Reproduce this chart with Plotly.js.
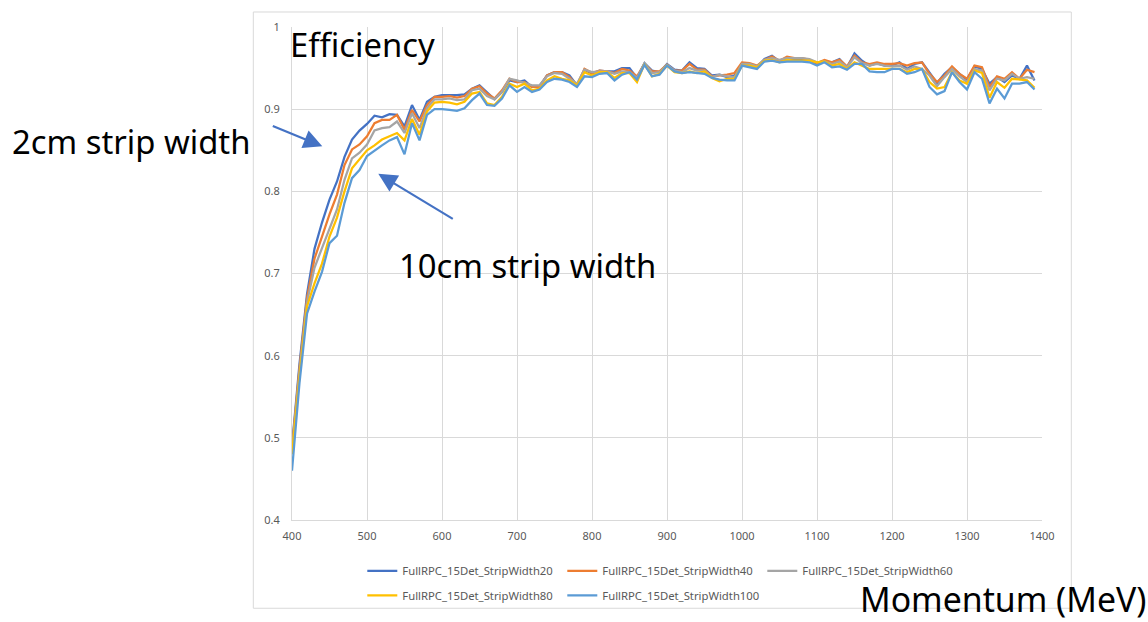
<!DOCTYPE html>
<html>
<head>
<meta charset="utf-8">
<script src="https://cdn.plot.ly/plotly-3.0.1.min.js"></script>
<style>html,body{margin:0;padding:0;background:#fff;}#chart{width:1148px;height:622px;}</style>
</head>
<body>
<div id="chart"></div>
<script>
const momentum = [400,410,420,430,440,450,460,470,480,490,500,510,520,530,540,550,560,570,580,590,600,610,620,630,640,650,660,670,680,690,700,710,720,730,740,750,760,770,780,790,800,810,820,830,840,850,860,870,880,890,900,910,920,930,940,950,960,970,980,990,1000,1010,1020,1030,1040,1050,1060,1070,1080,1090,1100,1110,1120,1130,1140,1150,1160,1170,1180,1190,1200,1210,1220,1230,1240,1250,1260,1270,1280,1290,1300,1310,1320,1330,1340,1350,1360,1370,1380,1390];

const stripWidth20 = [0.490,0.590,0.675,0.730,0.762,0.790,0.812,0.842,0.863,0.874,0.882,0.892,0.890,0.894,0.893,0.879,0.905,0.887,0.909,0.915,0.917,0.917,0.917,0.918,0.925,0.929,0.921,0.912,0.921,0.935,0.933,0.935,0.927,0.928,0.941,0.945,0.945,0.941,0.929,0.948,0.943,0.947,0.946,0.946,0.950,0.950,0.938,0.956,0.947,0.945,0.955,0.948,0.947,0.957,0.950,0.949,0.941,0.942,0.939,0.941,0.955,0.954,0.951,0.961,0.965,0.958,0.961,0.961,0.960,0.960,0.955,0.958,0.957,0.961,0.951,0.968,0.959,0.953,0.956,0.953,0.953,0.957,0.949,0.955,0.957,0.945,0.932,0.943,0.951,0.943,0.936,0.952,0.949,0.931,0.939,0.933,0.941,0.937,0.953,0.935];

const stripWidth40 = [0.487,0.585,0.670,0.718,0.745,0.772,0.796,0.832,0.851,0.857,0.867,0.883,0.887,0.887,0.893,0.875,0.899,0.885,0.905,0.915,0.915,0.916,0.914,0.916,0.925,0.928,0.919,0.913,0.923,0.937,0.933,0.933,0.927,0.927,0.941,0.945,0.945,0.939,0.929,0.949,0.944,0.947,0.946,0.944,0.949,0.947,0.940,0.955,0.946,0.946,0.954,0.947,0.947,0.955,0.948,0.948,0.940,0.941,0.942,0.944,0.957,0.956,0.953,0.960,0.964,0.959,0.964,0.962,0.962,0.960,0.956,0.960,0.957,0.960,0.952,0.965,0.957,0.955,0.957,0.955,0.955,0.956,0.953,0.956,0.957,0.943,0.933,0.941,0.952,0.943,0.937,0.953,0.951,0.927,0.940,0.937,0.945,0.937,0.948,0.945];

const stripWidth60 = [0.485,0.580,0.665,0.707,0.731,0.754,0.778,0.814,0.840,0.847,0.857,0.874,0.877,0.878,0.885,0.871,0.895,0.877,0.901,0.912,0.912,0.913,0.911,0.912,0.923,0.925,0.916,0.912,0.921,0.937,0.935,0.932,0.929,0.929,0.940,0.944,0.943,0.937,0.931,0.948,0.945,0.946,0.946,0.943,0.946,0.945,0.938,0.956,0.944,0.945,0.954,0.947,0.945,0.950,0.947,0.947,0.939,0.942,0.940,0.939,0.955,0.955,0.952,0.960,0.962,0.960,0.962,0.962,0.962,0.961,0.957,0.958,0.955,0.958,0.951,0.963,0.956,0.953,0.955,0.953,0.952,0.953,0.948,0.952,0.949,0.941,0.928,0.939,0.949,0.940,0.933,0.949,0.947,0.923,0.937,0.935,0.943,0.937,0.939,0.937];

const stripWidth80 = [0.480,0.575,0.660,0.688,0.712,0.745,0.768,0.800,0.828,0.839,0.850,0.856,0.863,0.867,0.871,0.862,0.888,0.869,0.897,0.908,0.909,0.908,0.906,0.909,0.919,0.921,0.907,0.905,0.915,0.931,0.927,0.931,0.923,0.925,0.935,0.940,0.937,0.935,0.929,0.945,0.941,0.945,0.945,0.938,0.944,0.944,0.933,0.955,0.940,0.943,0.953,0.945,0.944,0.946,0.944,0.946,0.938,0.934,0.937,0.937,0.953,0.953,0.951,0.959,0.960,0.957,0.960,0.959,0.959,0.959,0.957,0.958,0.953,0.955,0.949,0.957,0.953,0.949,0.949,0.949,0.949,0.949,0.945,0.949,0.949,0.933,0.925,0.927,0.945,0.935,0.931,0.947,0.944,0.914,0.933,0.926,0.937,0.936,0.935,0.926];

const stripWidth100 = [0.460,0.567,0.651,0.678,0.702,0.737,0.746,0.786,0.816,0.826,0.843,0.850,0.856,0.862,0.866,0.845,0.883,0.862,0.893,0.900,0.900,0.899,0.898,0.901,0.911,0.919,0.905,0.904,0.913,0.929,0.921,0.927,0.921,0.924,0.933,0.937,0.936,0.933,0.927,0.940,0.939,0.943,0.944,0.935,0.942,0.945,0.936,0.954,0.940,0.942,0.953,0.946,0.944,0.945,0.944,0.943,0.938,0.936,0.935,0.935,0.953,0.951,0.949,0.958,0.959,0.957,0.958,0.958,0.958,0.957,0.953,0.957,0.951,0.952,0.948,0.955,0.955,0.946,0.945,0.945,0.949,0.949,0.943,0.945,0.949,0.927,0.918,0.922,0.945,0.933,0.924,0.945,0.937,0.907,0.925,0.913,0.931,0.931,0.933,0.924];

const seriesNames = ['FullRPC_15Det_StripWidth20','FullRPC_15Det_StripWidth40','FullRPC_15Det_StripWidth60','FullRPC_15Det_StripWidth80','FullRPC_15Det_StripWidth100'];
const xTickVals = [400,500,600,700,800,900,1000,1100,1200,1300,1400];
const yTickVals = [0.4,0.5,0.6,0.7,0.8,0.9,1];
const yTickText = ['0.4','0.5','0.6','0.7','0.8','0.9','1'];

const seriesValues = [stripWidth20, stripWidth40, stripWidth60, stripWidth80, stripWidth100];
const colors = ['#4472C4','#ED7D31','#A5A5A5','#FFC000','#5B9BD5'];
const legendIds = ['legend','legend','legend','legend2','legend2'];

const traces = seriesValues.map((vals, i) => ({
  type: 'scatter', mode: 'lines', x: momentum, y: vals, name: seriesNames[i],
  line: {color: colors[i], width: 2.25}, legend: legendIds[i]
}));

const W = 1148, H = 622;
const L = 291.7, R = 1041.7, T = 27.3, B = 530;
const pw = R - L, ph = B - T;
const px = v => (v - L) / pw;
const py = v => (B - v) / ph;

const bigFont = {family: '"Noto Sans", sans-serif', size: 32.8, color: '#000000'};
const momFont = {family: '"Noto Sans", sans-serif', size: 33.8, color: '#000000'};
const legendFont = {family: '"Noto Sans", sans-serif', size: 11.3, color: '#595959'};
const tickFont = {family: '"Noto Sans", sans-serif', size: 11, color: '#595959'};

const legendBase = {
  orientation: 'h', x: px(362), xanchor: 'left', yanchor: 'top',
  font: legendFont, entrywidth: 155, entrywidthmode: 'pixels',
  bgcolor: 'rgba(0,0,0,0)', itemwidth: 30, tracegroupgap: 0
};

const layout = {
  width: W, height: H,
  margin: {l: L, r: W - R, t: T, b: H - B, pad: 0},
  paper_bgcolor: '#ffffff', plot_bgcolor: '#ffffff',
  showlegend: true,
  xaxis: {
    range: [400, 1400], tickvals: xTickVals, ticks: '', showgrid: true,
    gridcolor: '#D9D9D9', gridwidth: 1, zeroline: false, showline: true,
    linecolor: '#D9D9D9', linewidth: 1, tickfont: tickFont, ticklabelstandoff: 6
  },
  yaxis: {
    range: [0.4, 1.0], tickvals: yTickVals, ticktext: yTickText, ticks: '',
    showgrid: true, gridcolor: '#D9D9D9', gridwidth: 1, zeroline: false,
    showline: true, linecolor: '#D9D9D9', linewidth: 1, tickfont: tickFont,
    ticklabelstandoff: 9
  },
  legend: Object.assign({}, legendBase, {y: py(567)}),
  legend2: Object.assign({}, legendBase, {y: py(592)}),
  shapes: [{
    type: 'rect', xref: 'paper', yref: 'paper',
    x0: px(253), x1: px(1071), y0: py(620), y1: py(12),
    line: {color: '#D9D9D9', width: 1}, fillcolor: 'rgba(0,0,0,0)', layer: 'below'
  }],
  annotations: [
    {xref: 'paper', yref: 'paper', x: px(288), y: py(45), xanchor: 'left', yanchor: 'middle',
     text: 'Efficiency', showarrow: false, font: bigFont},
    {xref: 'paper', yref: 'paper', x: px(10), y: py(144), xanchor: 'left', yanchor: 'middle',
     text: '2cm strip width', showarrow: false, font: bigFont},
    {xref: 'paper', yref: 'paper', x: px(397), y: py(270), xanchor: 'left', yanchor: 'middle',
     text: '10cm strip width', showarrow: false, font: bigFont},
    {xref: 'paper', yref: 'paper', x: px(859), y: py(611), xanchor: 'left', yanchor: 'middle',
     text: 'Momentum (MeV)', showarrow: false, font: momFont, borderpad: 0},
    {xref: 'paper', yref: 'paper', x: px(322), y: py(149), text: '', showarrow: true,
     axref: 'pixel', ayref: 'pixel', ax: -51, ay: -21, arrowhead: 2, arrowsize: 1.7,
     arrowwidth: 2.2, arrowcolor: '#4472C4'},
    {xref: 'paper', yref: 'paper', x: px(378), y: py(177), text: '', showarrow: true,
     axref: 'pixel', ayref: 'pixel', ax: 76, ay: 46, arrowhead: 2, arrowsize: 1.7,
     arrowwidth: 2.2, arrowcolor: '#4472C4'}
  ]
};

Plotly.newPlot('chart', traces, layout, {staticPlot: true, displayModeBar: false});
</script>
</body>
</html>
